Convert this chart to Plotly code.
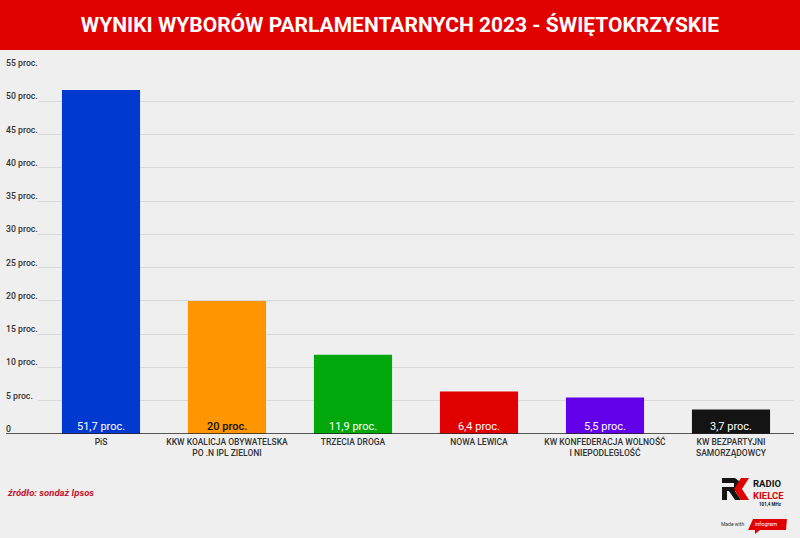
import plotly.graph_objects as go

partie = ["PiS", "KKW KOALICJA OBYWATELSKA<br>PO .N IPL ZIELONI", "TRZECIA DROGA", "NOWA LEWICA",
          "KW KONFEDERACJA WOLNOŚĆ<br>I NIEPODLEGŁOŚĆ", "KW BEZPARTYJNI<br>SAMORZĄDOWCY"]
wyniki = [51.7, 20, 11.9, 6.4, 5.5, 3.7]
etykiety = ["51,7 proc.", "20 proc.", "11,9 proc.", "6,4 proc.", "5,5 proc.", "3,7 proc."]
kolory = ["#0039cf", "#ff9500", "#00a80b", "#e00000", "#6200ea", "#141414"]
kolory_tekstu = ["#ffffff", "#111111", "#ffffff", "#ffffff", "#ffffff", "#ffffff"]
ticki = [0, 5, 10, 15, 20, 25, 30, 35, 40, 45, 50, 55]
ticki_tekst = ["0"] + [str(t) + " proc." for t in ticki[1:]]

fig = go.Figure(go.Bar(x=partie, y=wyniki, marker_color=kolory, marker_line_width=0))

fig.update_layout(
    width=800, height=538, autosize=False,
    margin=dict(l=38, r=6, t=68, b=104),
    paper_bgcolor="#efefef", plot_bgcolor="#efefef",
    bargap=0.38, showlegend=False,
    font=dict(family="Roboto", color="#333333"),
    title=dict(text="<b>WYNIKI WYBORÓW PARLAMENTARNYCH 2023 - ŚWIĘTOKRZYSKIE</b>",
               x=0.5, xanchor="center", y=1 - 25 / 538, yanchor="middle",
               font=dict(family="Roboto", size=21, color="#ffffff")),
)
fig.update_xaxes(tickfont=dict(family="Roboto", size=8.5, weight=500, color="#333333"),
                 ticks="", showline=False, showgrid=False, automargin=False, tickangle=0,
                 ticklabelstandoff=1)
fig.update_yaxes(range=[0, 55], tickvals=ticki, showticklabels=False, gridcolor="#d9d9d9",
                 gridwidth=1, zeroline=False, showline=False)

# naglowek
fig.add_shape(type="rect", xref="paper", yref="paper", x0=-38 / 756, x1=1 + 6 / 756,
              y0=1 + 18 / 366, y1=1 + 68 / 366, fillcolor="#e00000", line_width=0, layer="below")
# os x od lewej krawedzi
fig.add_shape(type="line", xref="paper", yref="y", x0=-32 / 756, x1=1, y0=0, y1=0,
              line=dict(color="#222222", width=1.5))

# etykiety slupkow, tuz nad osia
for p, e, k in zip(partie, etykiety, kolory_tekstu):
    fig.add_annotation(x=p, y=0, text=e, showarrow=False, yanchor="bottom", yshift=-1,
                       font=dict(family="Roboto", size=11, weight=500 if k == "#111111" else 400, color=k))

for t, s in zip(ticki, ticki_tekst):
    fig.add_annotation(xref="paper", yref="y", x=-32 / 756, y=t, text=s, showarrow=False,
                       xanchor="left", yanchor="middle", yshift=5, xshift=-2,
                       font=dict(family="Roboto", size=8.7, weight=500, color="#333333"))

fig.add_annotation(xref="paper", yref="paper", x=-31 / 756, y=-58 / 366, text="<b><i>źródło: sondaż Ipsos</i></b>",
                   showarrow=False, xanchor="left", yanchor="middle", xshift=-2,
                   font=dict(family="Roboto", size=9.5, color="#c4122f"))

# logo
def px(x):
    return (x - 38) / 756

def py(y):
    return (434 - y) / 366

def sciezka(punkty):
    return "M" + "L".join(f"{px(a):.4f},{py(b):.4f}" for a, b in punkty) + "Z"

logo_r = [(722, 478), (735, 478), (739, 481), (739, 488), (735, 491), (741, 500), (735, 500), (729, 491), (727, 491),
          (727, 500), (722, 500), (722, 487), (734, 487), (734, 483), (722, 483)]
logo_k = [(741, 478), (749, 478), (742, 489), (749, 500), (741, 500), (734, 489)]
fig.add_shape(type="path", xref="paper", yref="paper", path=sciezka(logo_r), fillcolor="#141414", line_width=0)
fig.add_shape(type="path", xref="paper", yref="paper", path=sciezka(logo_k), fillcolor="#e00000", line_width=0)
flaga = [(753, 519), (787, 519), (786, 530), (760, 530), (755, 534), (755, 530), (748, 530)]
fig.add_shape(type="path", xref="paper", yref="paper", path=sciezka(flaga), fillcolor="#e00000", line_width=0)

fig.add_annotation(xref="paper", yref="paper", x=px(752), y=py(477), showarrow=False,
                   text="<b>RADIO</b><br><b><span style='color:#e00000'>KIELCE</span></b>",
                   xanchor="left", yanchor="top", align="left", borderpad=0,
                   font=dict(family="Roboto", size=9.5, color="#141414"))
fig.add_annotation(xref="paper", yref="paper", x=px(784), y=py(504), text="<b>101,4 MHz</b>", showarrow=False,
                   xanchor="right", yanchor="middle", font=dict(family="Roboto", size=4.5, color="#141414"))
for tekst, x, y, rozmiar, kolor in [("infogram", 779, 524, 5.5, "#ffffff"), ("Made with", 746, 524, 5, "#333333")]:
    fig.add_annotation(xref="paper", yref="paper", x=px(x), y=py(y), text=tekst, showarrow=False,
                       xanchor="right", yanchor="middle", font=dict(family="Roboto", size=rozmiar, color=kolor))

fig.write_html("out.html", config={"displayModeBar": False},
               post_script="document.body.style.margin='0';document.body.style.overflow='hidden';")
